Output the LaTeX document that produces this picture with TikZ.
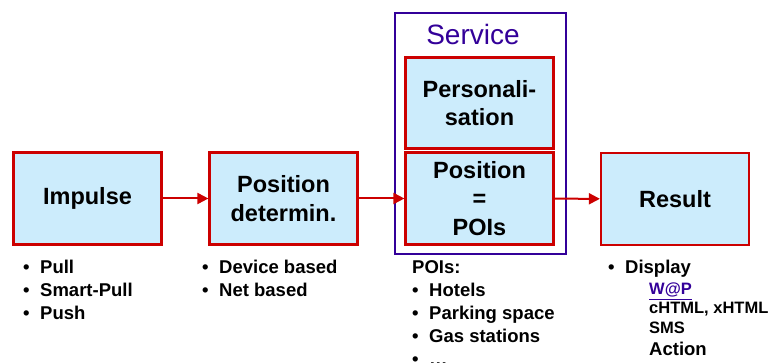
\documentclass[tikz,border=0pt]{standalone}
\usepackage{fontspec}
\setmainfont{Liberation Sans}
\usetikzlibrary{arrows.meta}
\definecolor{boxred}{RGB}{204,0,0}
\definecolor{boxblue}{RGB}{204,236,252}
\definecolor{servpurple}{RGB}{51,0,153}
\newcommand{\bul}{\makebox[17pt][l]{\textbullet}}

\begin{document}
\begin{tikzpicture}[x=1pt,y=-1pt,
  block/.style={draw=boxred,fill=boxblue,line width=2.2pt,minimum width=148pt,minimum height=92pt,inner sep=0pt,align=center,font=\fontsize{23.5}{28.5}\selectfont\bfseries},
  flow/.style={draw=boxred,line width=2pt,-{Triangle[length=11pt,width=11pt]}},
  item/.style={anchor=base west,inner sep=0pt,font=\fontsize{18.5}{22}\selectfont\bfseries},
  subitem/.style={anchor=base west,inner sep=0pt,font=\fontsize{16.5}{20}\selectfont\bfseries}]
\useasboundingbox (0,0) rectangle (769,363);

% service frame
\node[draw=servpurple,line width=2pt,minimum width=171pt,minimum height=241pt,inner sep=0pt] (serv) at (480.5,133.5) {};
\node[anchor=base,inner sep=0pt,text=servpurple,font=\fontsize{28}{32}\selectfont] (servlabel) at (473,45) {Service};

% blocks
\node[block] (imp) at (87.5,198.5) {Impulse};
\node[block] (pos) at (283.5,198.5) {Position\\determin.};
\node[block,minimum height=91pt] (pers) at (479.5,103) {Personali-\\sation};
\node[block] (poi) at (479.5,198.5) {Position\\=\\POIs};
\node[block] (res) at (675,199) {Result};

\draw[flow] (imp) -- (pos);
\draw[flow] (pos) -- (poi);
\draw[flow] (poi) -- (res);

% lists under the blocks
\foreach \t [count=\i] in {Pull,Smart-Pull,Push}
  \node[item] (imp-\i) at (23,274+23*\i-23) {\bul\t};
\foreach \t [count=\i] in {Device based,Net based}
  \node[item] (pos-\i) at (202,274+23*\i-23) {\bul\t};
\node[item] (poi-0) at (412,274) {POIs:};
\foreach \t [count=\i] in {Hotels,Parking space,Gas stations,\dots}
  \node[item] (poi-\i) at (412,274+23*\i) {\bul\t};

\node[item] (res-0) at (608,274) {\bul Display};
\node[subitem,text=servpurple] (res-1) at (649,295) {\underline{W@P}};
\node[subitem] (res-2) at (649,314) {cHTML, xHTML};
\node[subitem] (res-3) at (649,334) {SMS};
\node[item] (res-4) at (649,356) {Action};
\end{tikzpicture}
\end{document}
